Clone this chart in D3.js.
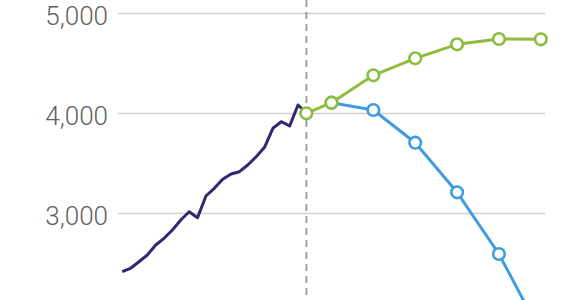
<!DOCTYPE html>
<html>
<head>
<meta charset="utf-8">
<script src="https://cdn.jsdelivr.net/npm/d3@7"></script>
<style>
  html, body { margin: 0; padding: 0; background: #fff; }
  svg { display: block; }
</style>
</head>
<body>
<svg id="chart" width="585" height="300"></svg>
<script>
// ---- data ----
const histYears = [1990,1991,1992,1993,1994,1995,1996,1997,1998,1999,2000,2001,2002,2003,2004,2005,2006,2007,2008,2009,2010,2011,2012];
const histValues = [2413,2447,2513,2580,2680,2747,2830,2930,3013,2953,3170,3247,3337,3390,3413,3480,3563,3657,3847,3913,3870,4080,4000];

const greenYears = [2012,2015,2020,2025,2030,2035,2040];
const greenValues = [3997,4103,4377,4547,4687,4740,4737];

const blueYears = [2015,2020,2025,2030,2035,2040];
const blueValues = [4103,4030,3703,3207,2590,1800];

const yTicks = [3000,4000,5000];
const dividerYear = 2012;

// ---- scales ----
const svg = d3.select("#chart");
const x = d3.scaleLinear().domain([1989.5, 2040.5]).range([118, 545]);
const y = d3.scaleLinear().domain([3000, 5000]).range([213, 13]);

// gridlines + labels via axis
const yAxis = d3.axisLeft(y)
  .tickValues(yTicks)
  .tickSize(-(x.range()[1] - x.range()[0]))
  .tickPadding(10)
  .tickFormat(d3.format(","));

const gAxis = svg.append("g")
  .attr("transform", `translate(${x.range()[0]},0)`)
  .call(yAxis);
gAxis.select(".domain").remove();
gAxis.selectAll(".tick line").attr("stroke", "#d0d0d0").attr("stroke-width", 1.5);
gAxis.selectAll(".tick text")
  .attr("fill", "#5f5f5f")
  .attr("font-family", "Roboto, 'Liberation Sans', sans-serif")
  .attr("font-weight", 300)
  .attr("font-size", 26)
  .attr("dy", 11);

// divider
svg.append("line")
  .attr("x1", x(dividerYear)).attr("x2", x(dividerYear))
  .attr("y1", 0).attr("y2", 300)
  .attr("stroke", "#999")
  .attr("stroke-width", 1.8)
  .attr("stroke-dasharray", "7,5");

const line = d3.line().x(d => x(d[0])).y(d => y(d[1]));

// history line
svg.append("path")
  .datum(histYears.map((yr, i) => [yr, histValues[i]]))
  .attr("d", line)
  .attr("fill", "none")
  .attr("stroke", "#2e2a72")
  .attr("stroke-width", 3)
  .attr("stroke-linejoin", "round");

function series(years, values, color) {
  const data = years.map((yr, i) => [yr, values[i]]);
  svg.append("path")
    .datum(data)
    .attr("d", line)
    .attr("fill", "none")
    .attr("stroke", color)
    .attr("stroke-width", 3)
    .attr("stroke-linejoin", "round");
  svg.append("g").selectAll("circle")
    .data(data)
    .join("circle")
    .attr("cx", d => x(d[0]))
    .attr("cy", d => y(d[1]))
    .attr("r", 5.8)
    .attr("fill", "#fff")
    .attr("stroke", color)
    .attr("stroke-width", 2.6);
}

series(blueYears, blueValues, "#3f9ce0");
series(greenYears, greenValues, "#8cbd3f");
</script>
</body>
</html>
